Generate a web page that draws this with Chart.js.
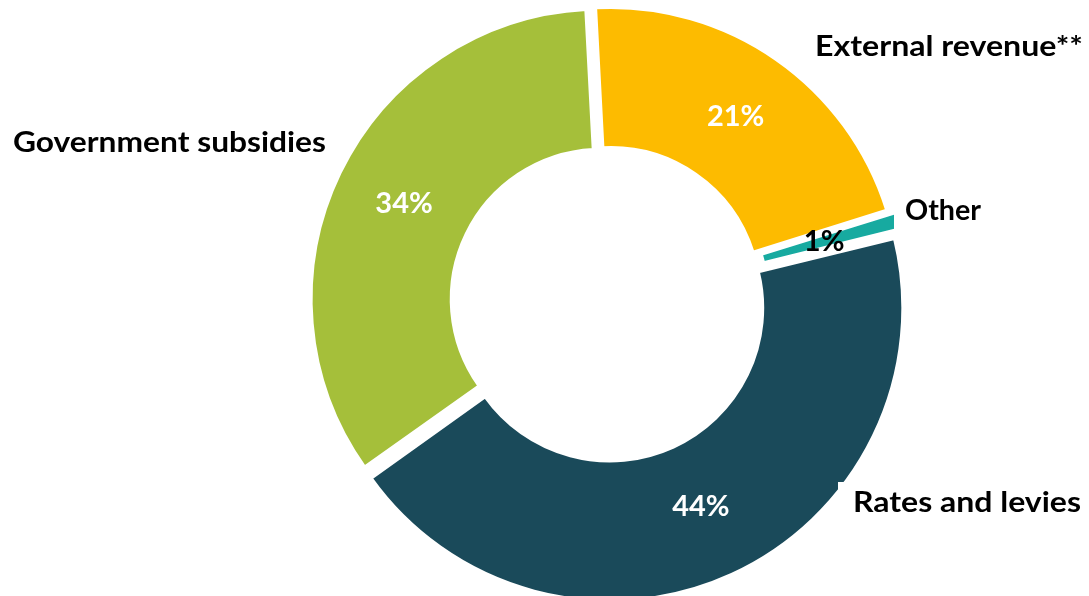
<!DOCTYPE html>
<html lang="en">
<head>
    <meta charset="UTF-8">
    <title>Revenue sources</title>
    <script src="https://cdn.jsdelivr.net/npm/chart.js"></script>
    <style>
        html, body { margin: 0; padding: 0; background: #fff; }
        #wrap { width: 1089px; height: 596px; position: relative; }
    </style>
</head>
<body>
    <div id="wrap"><canvas id="revenue-chart"></canvas></div>

    <script>
        // Revenue split, clockwise from the top
        const categories = ['External revenue**', 'Other', 'Rates and levies', 'Government subsidies'];
        const shares = [21, 1, 44, 34];
        const sliceColors = ['#FDBB00', '#17AAA0', '#1A4A5A', '#A5BF3A'];
        const pctColors = ['#ffffff', '#000000', '#ffffff', '#ffffff'];

        // Where each category name sits: left x, baseline y, text width
        const nameSpots = [
            { x: 815, y: 56, w: 268 },
            { x: 905, y: 220, w: 76 },
            { x: 853, y: 512, w: 228 },
            { x: 13, y: 152, w: 313 }
        ];
        // White patches that the outer names sit on
        const namePatches = [
            { x: 894, y: 192, w: 100, h: 40 },
            { x: 838, y: 482, w: 251, h: 50 }
        ];

        const sliceOffset = 26;
        const labelFont = 'bold 29px Lato, "Open Sans", sans-serif';

        function drawFitted(ctx, text, x, y, w) {
            const m = ctx.measureText(text).width;
            ctx.save();
            ctx.translate(x, y);
            ctx.scale(w / m, 1);
            ctx.fillText(text, 0, 0);
            ctx.restore();
        }

        const sliceLabels = {
            id: 'sliceLabels',
            afterDatasetsDraw(chart) {
                const ctx = chart.ctx;
                const meta = chart.getDatasetMeta(0);
                ctx.save();
                ctx.fillStyle = '#ffffff';
                namePatches.forEach(p => ctx.fillRect(p.x, p.y, p.w, p.h));

                ctx.font = labelFont;
                ctx.textBaseline = 'middle';
                ctx.textAlign = 'center';
                meta.data.forEach((arc, i) => {
                    // middle of the ring, shifted with the pulled-out slice
                    const a = arc.getProps(['x', 'y', 'startAngle', 'endAngle', 'innerRadius', 'outerRadius']);
                    const mid = (a.startAngle + a.endAngle) / 2;
                    const r = (a.innerRadius + a.outerRadius) / 2 + sliceOffset / 4;
                    ctx.fillStyle = pctColors[i];
                    ctx.fillText(shares[i] + '%', a.x + Math.cos(mid) * r, a.y + Math.sin(mid) * r);
                });

                ctx.textAlign = 'left';
                ctx.textBaseline = 'alphabetic';
                ctx.fillStyle = '#000000';
                categories.forEach((name, i) => {
                    const s = nameSpots[i];
                    drawFitted(ctx, name, s.x, s.y, s.w);
                });
                ctx.restore();
            }
        };

        const ctx = document.getElementById('revenue-chart').getContext('2d');
        new Chart(ctx, {
            type: 'doughnut',
            data: {
                labels: categories,
                datasets: [{
                    data: shares,
                    backgroundColor: sliceColors,
                    borderColor: '#ffffff',
                    borderWidth: 3,
                    // every slice pulled out a little
                    offset: sliceOffset,
                    radius: 289,
                    clip: false
                }]
            },
            options: {
                responsive: true,
                maintainAspectRatio: false,
                animation: false,
                rotation: -3,
                cutout: 144,
                layout: { padding: { left: 125, top: 8, right: 0, bottom: 0 } },
                plugins: {
                    legend: { display: false },
                    tooltip: { enabled: false }
                }
            },
            plugins: [sliceLabels]
        });
    </script>
</body>
</html>
